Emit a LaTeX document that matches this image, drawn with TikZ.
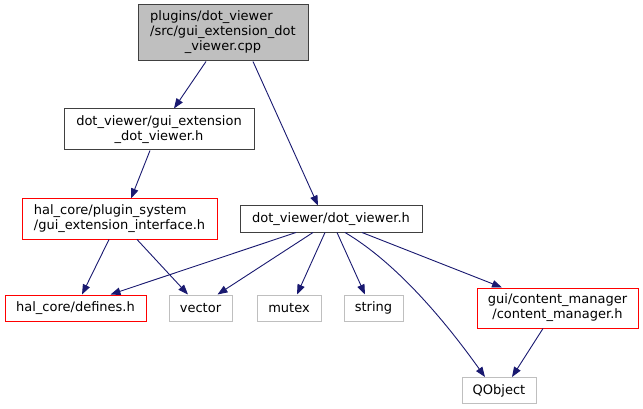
\documentclass[tikz,border=0pt]{standalone}
\usepackage{fontspec}
\setmainfont{DejaVu Sans}
\usetikzlibrary{arrows.meta}
\definecolor{edgeblue}{HTML}{191970}
\definecolor{boxgray}{HTML}{BFBFBF}
\definecolor{boxdark}{HTML}{404040}
\definecolor{boxred}{HTML}{FF0000}
\tikzset{
  nbox/.style={draw, line width=1pt, inner sep=0pt, font=\fontsize{13}{15}\selectfont},
  mainbox/.style={nbox, draw=boxdark, fill=boxgray},
  blackbox/.style={nbox, draw=boxdark},
  redbox/.style={nbox, draw=boxred},
  extbox/.style={nbox, draw=boxgray},
  dep/.style={draw=edgeblue, line width=0.9pt, -{Triangle[length=10pt,width=7.5pt]}},
}
\begin{document}
\begin{tikzpicture}[x=1pt,y=-1pt]
\useasboundingbox (0,0) rectangle (643,409);
\node[mainbox, minimum width=170pt, minimum height=56pt] (main) at (223,33)
  {\begin{tabular}{@{}l@{}}plugins/dot\_viewer\\/src/gui\_extension\_dot\\\multicolumn{1}{@{}c@{}}{\_viewer.cpp}\end{tabular}};
\node[blackbox, minimum width=190pt, minimum height=41pt, align=center] (gdv) at (159,129.5)
  {dot\_viewer/gui\_extension\\\_dot\_viewer.h};
\node[redbox, minimum width=195pt, minimum height=40pt, align=left] (gei) at (119.5,219)
  {hal\_core/plugin\_system\\/gui\_extension\_interface.h};
\node[blackbox, minimum width=182pt, minimum height=26pt] (dvh) at (331,219) {dot\_viewer/dot\_viewer.h};
\node[redbox, minimum width=141pt, minimum height=26pt] (def) at (75.5,308) {hal\_core/defines.h};
\node[extbox, minimum width=63pt, minimum height=26pt] (vec) at (200.5,308) {vector};
\node[extbox, minimum width=64pt, minimum height=26pt] (mut) at (289,308) {mutex};
\node[extbox, minimum width=59pt, minimum height=26pt] (str) at (373.5,308) {string};
\node[redbox, minimum width=161pt, minimum height=40pt, align=center] (cm) at (557.5,308)
  {gui/content\_manager\\/content\_manager.h};
\node[extbox, minimum width=74pt, minimum height=26pt] (qo) at (499,390.5) {QObject};

\draw[dep] ([xshift=-17pt]main.south) -- ([xshift=15pt]gdv.north);
\draw[dep] ([xshift=30pt]main.south) -- ([xshift=-13pt]dvh.north);
\draw[dep] ([xshift=-9pt]gdv.south) -- ([xshift=11.5pt]gei.north);
\draw[dep] ([xshift=-10.5pt]gei.south) -- ([xshift=6.5pt]def.north);
\draw[dep] ([xshift=17.5pt]gei.south) -- ([xshift=-12.5pt]vec.north);
\draw[dep] ([xshift=-35pt]dvh.south) -- ([xshift=35pt]def.north);
\draw[dep] ([xshift=-18pt]dvh.south) -- ([xshift=17pt]vec.north);
\draw[dep] ([xshift=-6pt]dvh.south) -- ([xshift=8pt]mut.north);
\draw[dep] ([xshift=6pt]dvh.south) -- ([xshift=-8.5pt]str.north);
\draw[dep] ([xshift=14pt]dvh.south) .. controls (400,265) and (450,328) .. ([xshift=-14pt]qo.north);
\draw[dep] ([xshift=31pt]dvh.south) -- ([xshift=-55.5pt]cm.north);
\draw[dep] ([xshift=-14.5pt]cm.south) -- ([xshift=13pt]qo.north);
\end{tikzpicture}
\end{document}
